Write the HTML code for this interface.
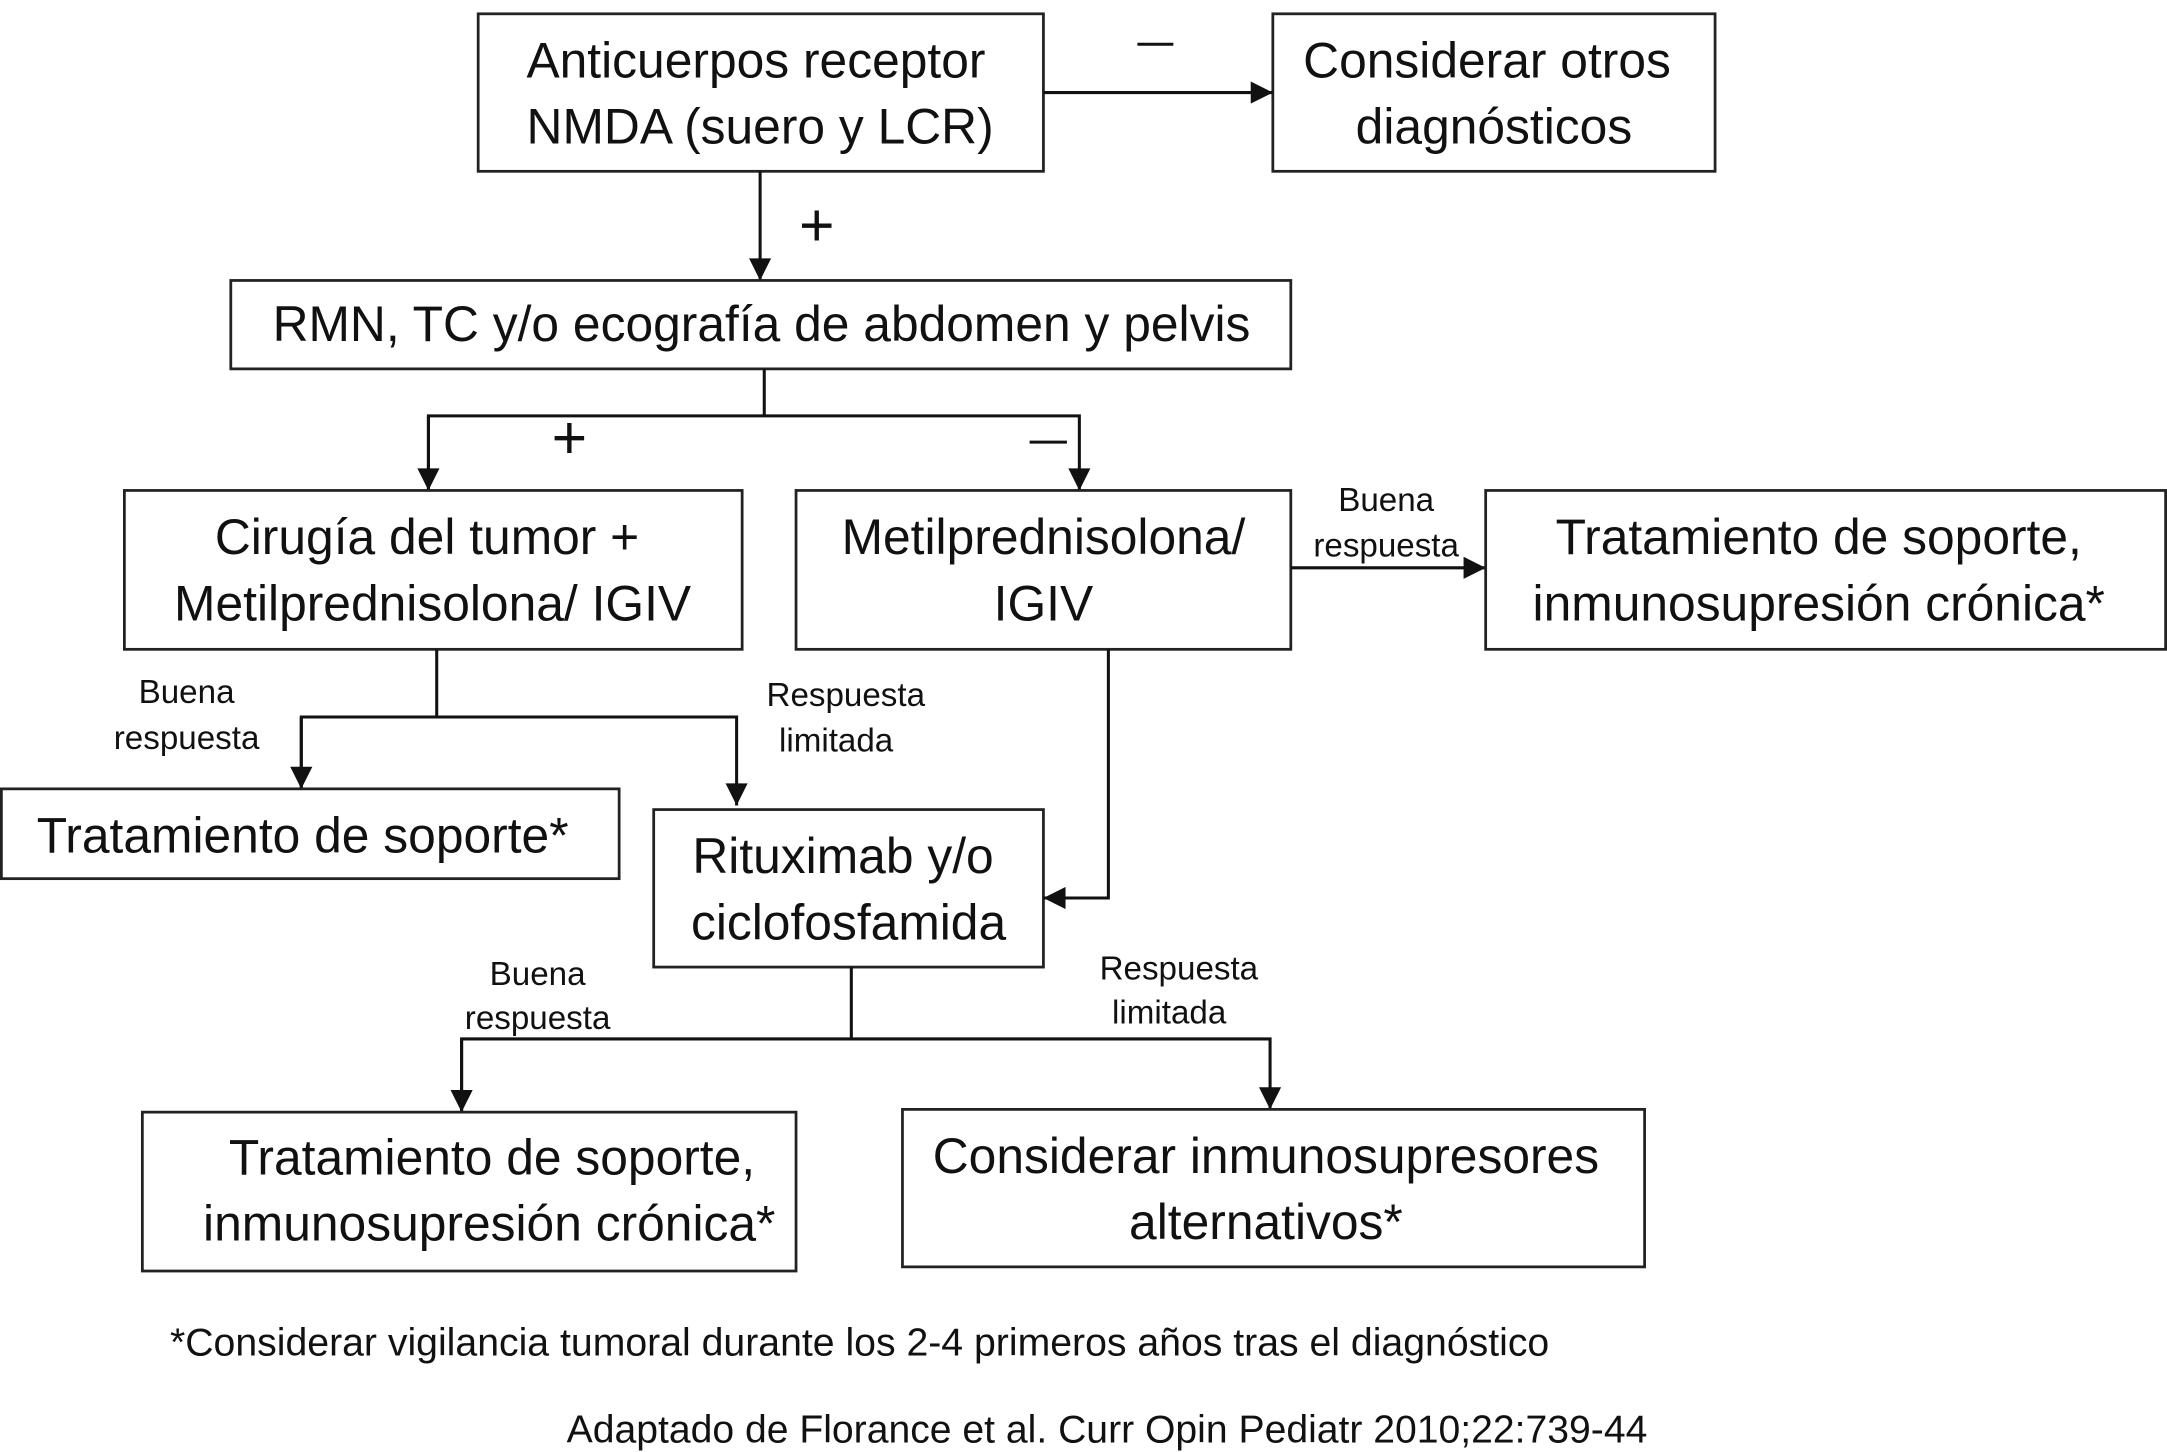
<!DOCTYPE html>
<html><head><meta charset="utf-8"><style>
html,body{margin:0;padding:0;background:#fff;}
svg{display:block;}
text{font-family:"Liberation Sans",Arial,sans-serif;fill:#111;}
.b{font-size:36px;}
.s{font-size:24px;}
.f{font-size:28px;}
.p{font-size:44px;}
rect{fill:#fff;stroke:#222;stroke-width:2;}
line,polyline{stroke:#111;stroke-width:2.2;fill:none;}
</style></head><body>
<svg width="2167" height="1452" viewBox="0 0 1568 1051" preserveAspectRatio="none" xmlns="http://www.w3.org/2000/svg">
<defs>
<marker id="m" viewBox="0 0 10 10" refX="10" refY="5" markerWidth="18" markerHeight="16" markerUnits="userSpaceOnUse" orient="auto"><path d="M0,0 L10,5 L0,10 z" fill="#111"/></marker></defs>

<rect x="346" y="10" width="409" height="114"/>
<text class="b" x="547" y="56" text-anchor="middle">Anticuerpos  receptor</text>
<text class="b" x="550" y="104" text-anchor="middle">NMDA (suero y LCR)</text>

<rect x="921" y="10" width="320" height="114"/>
<text class="b" x="1076" y="56" text-anchor="middle">Considerar  otros</text>
<text class="b" x="1081" y="104" text-anchor="middle">diagnósticos</text>

<line x1="755" y1="67" x2="921" y2="67" marker-end="url(#m)"/>
<line x1="823" y1="32" x2="849" y2="32"/>
<line x1="550" y1="124" x2="550" y2="203" marker-end="url(#m)"/>
<text class="p" x="591" y="178" text-anchor="middle">+</text>

<rect x="167" y="203" width="767" height="64"/>
<text class="b" x="551" y="247" text-anchor="middle">RMN, TC y/o ecografía de abdomen y pelvis</text>

<polyline points="553,267 553,301"/>
<polyline points="310,355 310,301 781,301 781,355" marker-end="url(#m)"/>
<line x1="310" y1="301" x2="310" y2="355" marker-end="url(#m)"/>
<text class="p" x="412" y="332" text-anchor="middle">+</text>
<line x1="745" y1="320" x2="772" y2="320"/>

<rect x="90" y="355" width="447" height="115"/>
<text class="b" x="309" y="401" text-anchor="middle">Cirugía del tumor +</text>
<text class="b" x="313" y="449" text-anchor="middle">Metilprednisolona/ IGIV</text>

<rect x="576" y="355" width="358" height="115"/>
<text class="b" x="755" y="401" text-anchor="middle">Metilprednisolona/</text>
<text class="b" x="755" y="449" text-anchor="middle">IGIV</text>

<line x1="934" y1="411" x2="1075" y2="411" marker-end="url(#m)"/>
<text class="s" x="1003" y="370" text-anchor="middle">Buena</text>
<text class="s" x="1003" y="403" text-anchor="middle">respuesta</text>

<rect x="1075" y="355" width="492" height="115"/>
<text class="b" x="1316" y="401" text-anchor="middle">Tratamiento de soporte,</text>
<text class="b" x="1316" y="449" text-anchor="middle">inmunosupresión crónica*</text>

<line x1="316" y1="470" x2="316" y2="519"/>
<polyline points="218,571 218,519 533,519 533,583" marker-end="url(#m)"/>
<line x1="218" y1="519" x2="218" y2="571" marker-end="url(#m)"/>
<text class="s" x="135" y="509" text-anchor="middle">Buena</text>
<text class="s" x="135" y="542" text-anchor="middle">respuesta</text>
<text class="s" x="612" y="511" text-anchor="middle">Respuesta</text>
<text class="s" x="605" y="544" text-anchor="middle">limitada</text>

<rect x="1" y="571" width="447" height="65"/>
<text class="b" x="219" y="617" text-anchor="middle">Tratamiento de soporte*</text>

<rect x="473" y="586" width="282" height="114"/>
<text class="b" x="610" y="632" text-anchor="middle">Rituximab y/o</text>
<text class="b" x="614" y="680" text-anchor="middle">ciclofosfamida</text>

<polyline points="802,470 802,650 755,650" marker-end="url(#m)"/>

<line x1="616" y1="700" x2="616" y2="752"/>
<polyline points="334,805 334,752 919,752 919,803" marker-end="url(#m)"/>
<line x1="334" y1="752" x2="334" y2="805" marker-end="url(#m)"/>
<text class="s" x="389" y="713" text-anchor="middle">Buena</text>
<text class="s" x="389" y="745" text-anchor="middle">respuesta</text>
<text class="s" x="853" y="709" text-anchor="middle">Respuesta</text>
<text class="s" x="846" y="741" text-anchor="middle">limitada</text>

<rect x="103" y="805" width="473" height="115"/>
<text class="b" x="356" y="850" text-anchor="middle">Tratamiento de soporte,</text>
<text class="b" x="354" y="898" text-anchor="middle">inmunosupresión crónica*</text>

<rect x="653" y="803" width="537" height="114"/>
<text class="b" x="916" y="849" text-anchor="middle">Considerar inmunosupresores</text>
<text class="b" x="916" y="897" text-anchor="middle">alternativos*</text>

<text class="f" x="123" y="981" textLength="998" lengthAdjust="spacingAndGlyphs">*Considerar vigilancia tumoral durante los 2-4 primeros años tras el diagnóstico</text>
<text class="f" x="410" y="1044" textLength="782" lengthAdjust="spacingAndGlyphs">Adaptado de Florance et al. Curr Opin Pediatr 2010;22:739-44</text>
</svg>
</body></html>
